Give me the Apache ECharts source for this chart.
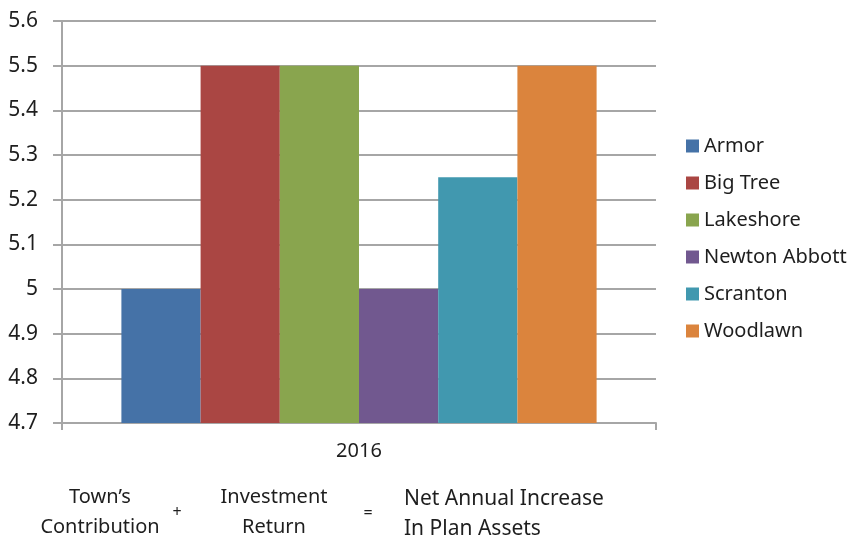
<!DOCTYPE html>
<html><head><meta charset="utf-8">
<script src="https://cdn.jsdelivr.net/npm/echarts@6/dist/echarts.min.js"></script>
<style>html,body{margin:0;padding:0;background:#fff}#c{width:858px;height:544px}</style>
</head><body><div id="c"></div>
<script>
const categories = ['2016'];
const seriesNames = ['Armor', 'Big Tree', 'Lakeshore', 'Newton Abbott', 'Scranton', 'Woodlawn'];
const seriesValues = [[5.0], [5.5], [5.5], [5.0], [5.25], [5.5]];
const colors = ['#4572A7', '#AA4643', '#89A54E', '#71588F', '#4198AF', '#DB843D'];
const FONT = '"Noto Sans", sans-serif';
const chart = echarts.init(document.getElementById('c'));
const gridColor = '#a6a6a6';
const txt = '#1e1e1e';
chart.setOption({
  animation: false,
  color: colors,
  grid: { left: 62, right: 202, top: 21, bottom: 121 },
  legend: {
    orient: 'vertical', left: 681, top: 131,
    itemWidth: 13, itemHeight: 13, itemGap: 17, icon: 'rect',
    textStyle: { fontSize: 20, color: txt, fontFamily: FONT },
    data: seriesNames
  },
  xAxis: {
    type: 'category', data: categories,
    axisLine: { lineStyle: { color: gridColor, width: 2 } },
    axisTick: { show: true, length: 7, lineStyle: { color: gridColor, width: 2 } },
    axisLabel: { fontSize: 20, color: txt, fontFamily: FONT, margin: 18 }
  },
  yAxis: {
    type: 'value', min: 4.7, max: 5.6, interval: 0.1,
    axisLine: { show: true, lineStyle: { color: gridColor, width: 2 } },
    axisTick: { show: true, length: 9, lineStyle: { color: gridColor, width: 2 } },
    splitLine: { lineStyle: { color: gridColor, width: 2 } },
    axisLabel: { fontSize: 21, color: txt, fontFamily: FONT, margin: 24,
      formatter: v => String(Math.round(v * 10) / 10) }
  },
  series: seriesNames.map((n, i) => ({
    name: n, type: 'bar', data: seriesValues[i],
    barGap: '0%', barCategoryGap: '20%'
  })),
  graphic: [
    { type: 'text', x: 100, y: 497, style: { text: 'Town\u2019s', fill: txt, font: '20px ' + FONT, textAlign: 'center', textVerticalAlign: 'middle' } },
    { type: 'text', x: 100, y: 527, style: { text: 'Contribution', fill: txt, font: '20px ' + FONT, textAlign: 'center', textVerticalAlign: 'middle' } },
    { type: 'text', x: 177, y: 512, style: { text: '+', fill: txt, font: '16px ' + FONT, textAlign: 'center', textVerticalAlign: 'middle' } },
    { type: 'text', x: 274, y: 497, style: { text: 'Investment', fill: txt, font: '20px ' + FONT, textAlign: 'center', textVerticalAlign: 'middle' } },
    { type: 'text', x: 274, y: 527, style: { text: 'Return', fill: txt, font: '20px ' + FONT, textAlign: 'center', textVerticalAlign: 'middle' } },
    { type: 'text', x: 368, y: 513, style: { text: '=', fill: txt, font: '16px ' + FONT, textAlign: 'center', textVerticalAlign: 'middle' } },
    { type: 'text', x: 404, y: 499, style: { text: 'Net Annual Increase', fill: txt, font: '21px ' + FONT, textAlign: 'left', textVerticalAlign: 'middle' } },
    { type: 'text', x: 404, y: 529, style: { text: 'In Plan Assets', fill: txt, font: '21px ' + FONT, textAlign: 'left', textVerticalAlign: 'middle' } }
  ]
});
</script></body></html>
